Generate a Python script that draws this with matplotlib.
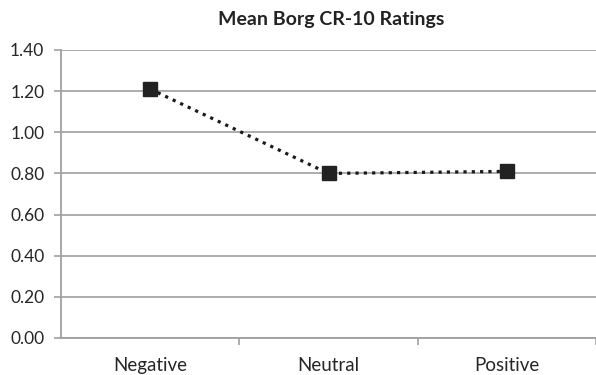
import matplotlib
matplotlib.use("Agg")
import matplotlib.pyplot as plt
import numpy as np

categories = ["Negative", "Neutral", "Positive"]
values = [1.21, 0.80, 0.81]
yticks = [0.0, 0.2, 0.4, 0.6, 0.8, 1.0, 1.2, 1.4]
title = "Mean Borg CR-10 Ratings"

plt.rcParams['font.family'] = ['Lato', 'DejaVu Sans']
W, H = 596, 375
fig = plt.figure(figsize=(W/100, H/100), dpi=100)
left, right, top, bottom = 61, 596, 50, 338
ax = fig.add_axes([left/W, 1 - bottom/H, (right-left)/W, (bottom-top)/H])

x = np.arange(len(categories))
ax.plot(x, values, linestyle=(0, (1, 1.6)), color='#1a1a1a', linewidth=2.3,
        marker='s', markersize=10, markerfacecolor='#222222', markeredgecolor='#222222',
        zorder=3, clip_on=False)

ax.set_ylim(0, 1.4)
ax.set_xlim(-0.5, 2.472)
ax.set_yticks(yticks)
ax.set_yticklabels([f"{v:.2f}" for v in yticks], fontsize=12.5, color='#262626')
ax.yaxis.grid(True, color='#a6a6a6', linewidth=1.3)
ax.set_axisbelow(True)

ax.set_xticks([0.5, 1.5, 2.5])
ax.set_xticklabels([])
ax.set_xticks(x, minor=True)
ax.set_xticklabels(categories, minor=True, fontsize=13.5, color='#262626')
ax.tick_params(axis='x', which='minor', length=0, pad=14)
ax.tick_params(axis='x', which='major', length=5, color='#a0a0a0', width=1.2, direction='out')
ax.tick_params(axis='y', length=5, color='#a0a0a0', width=1.2, pad=7)

for s in ['top', 'right']:
    ax.spines[s].set_visible(False)
ax.spines['left'].set_color('#a0a0a0')
ax.spines['left'].set_linewidth(1.3)
ax.spines['bottom'].set_color('#a0a0a0')
ax.spines['bottom'].set_linewidth(1.3)

fig.text(331/W, 1 - 20/H, title, ha='center', va='center', fontsize=14,
         fontweight='bold', color='#222222')

fig.savefig("out.png", dpi=100, facecolor='white')
